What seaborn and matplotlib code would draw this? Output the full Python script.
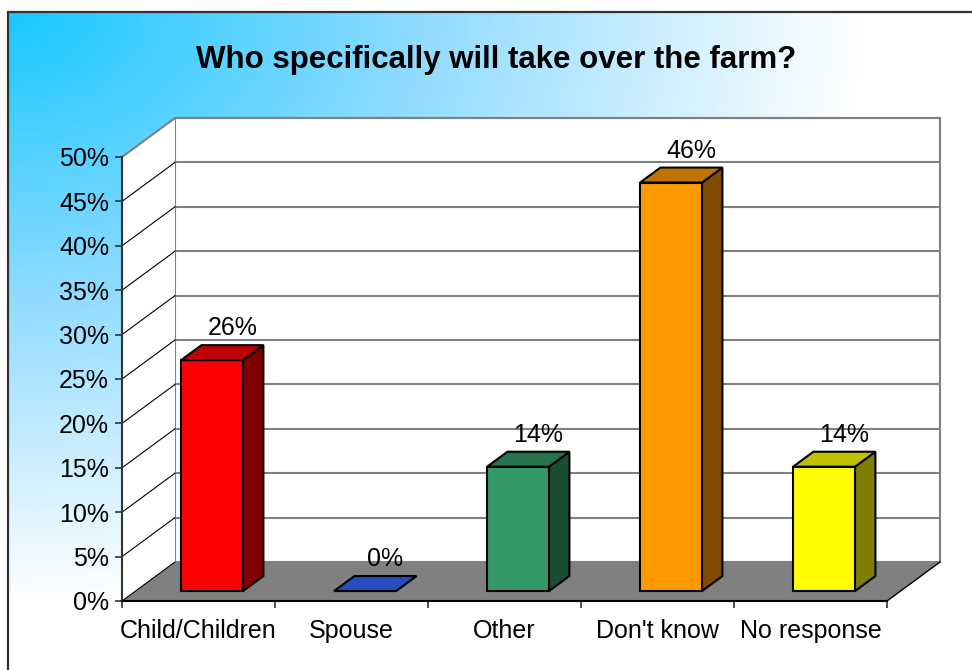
import numpy as np
import matplotlib
matplotlib.use("Agg")
import matplotlib.pyplot as plt
from matplotlib.colors import LinearSegmentedColormap, to_rgb
from matplotlib.patches import Polygon, Rectangle
import seaborn as sns

# ---- data -------------------------------------------------------------
categories = ["Child/Children", "Spouse", "Other", "Don't know", "No response"]
shares = [26, 0, 14, 46, 14]
front_colors = ["#ff0000", "#3366ff", "#339966", "#ff9900", "#ffff00"]
ytick_values = [0, 5, 10, 15, 20, 25, 30, 35, 40, 45, 50]
ytick_labels = [f"{v}%" for v in ytick_values]
title = "Who specifically will take over the farm?"

# ---- style ------------------------------------------------------------
sns.set_theme(style="white")
plt.rcParams["font.family"] = ["Liberation Sans", "DejaVu Sans"]

W, H = 972, 670
fig = plt.figure(figsize=(W / 100, H / 100), dpi=100)
fig.patch.set_facecolor("white")

# ---- background panel with corner gradient -----------------------------
bg = fig.add_axes([0, 0, 1, 1])
yy, xx = np.mgrid[0:H, 0:W]
t = np.sqrt(((xx - 8) / W) ** 2 + ((yy - 12) / H) ** 2) / 0.88
t = np.clip(t, 0, 1)
fade = LinearSegmentedColormap.from_list(
    "fade", [(0.0, "#18c8ff"), (0.48, "#8fdbff"), (1.0, "#ffffff")])
bg.imshow(t[12:, 8:], cmap=fade, vmin=0, vmax=1, extent=(8, W, H, 12),
          aspect="auto", interpolation="bilinear")
bg.plot([8, 8, W + 5], [H + 5, 12, 12], color="#333333", lw=1.6,
        solid_joinstyle="miter", solid_capstyle="projecting")
bg.set_xlim(0, W)
bg.set_ylim(H, 0)
bg.axis("off")
bg.text(496.5, 68, title, ha="center", va="baseline", fontsize=22.5,
        fontweight="bold", color="black")

# ---- plot area (front plane of the 3-D box) ----------------------------
ax = fig.add_axes([122 / W, (H - 601) / H, 765 / W, 444 / H])
ax.patch.set_alpha(0)

sns.barplot(x=categories, y=shares, hue=categories, palette=front_colors,
            legend=False, width=0.405, saturation=1, edgecolor="black",
            linewidth=1.5, ax=ax, zorder=3)

ax.set_xlim(-0.5, 4.5)
ax.set_ylim(0, 50)
ax.set_xlabel("")
ax.set_ylabel("")

# depth of the box in data units
DX = 53 / 153
DY = 39 * 50 / 444
x_lo, x_hi = -0.5, 4.5
y_top = 50

# back wall and side wall
ax.add_patch(Rectangle((x_lo + DX, DY), x_hi - x_lo, y_top, facecolor="white",
                       edgecolor="#808080", lw=1.5, zorder=0.2, clip_on=False))
ax.add_patch(Polygon([(x_lo, 0), (x_lo + DX, DY), (x_lo + DX, y_top + DY),
                      (x_lo, y_top)], closed=True, facecolor="white",
                     edgecolor="none", zorder=0.2, clip_on=False))
ax.plot([x_lo, x_lo + DX], [y_top, y_top + DY], color="#808080", lw=1.5,
        zorder=0.3, clip_on=False)

# gridlines on the back wall
for v in ytick_values[1:]:
    ax.plot([x_lo + DX, x_hi + DX], [v + DY, v + DY], color="#808080",
            lw=1.5, zorder=0.3, clip_on=False)

# floor
ax.add_patch(Polygon([(x_lo, 0), (x_hi, 0), (x_hi + DX, DY), (x_lo + DX, DY)],
                     closed=True, facecolor="#808080", edgecolor="none",
                     zorder=0.4, clip_on=False))
ax.plot([x_hi, x_hi + DX], [0, DY], color="black", lw=1.0, zorder=0.5,
        clip_on=False)

# gridlines on the side wall
for v in ytick_values[:-1]:
    ax.plot([x_lo, x_lo + DX], [v, v + DY], color="black", lw=0.8,
            zorder=0.5, clip_on=False)

# ---- turn the flat bars into prisms ------------------------------------
front_f, back_f = 0.256, 0.64
fx, fy = front_f * DX, front_f * DY
bx, by = back_f * DX, back_f * DY


def shade(color, k):
    r, g, b = to_rgb(color)
    return (r * k, g * k, b * k)


bars = [p for p in ax.patches
        if isinstance(p, Rectangle) and p.get_zorder() == 3]
for p in bars:
    x0, w, h = p.get_x(), p.get_width(), p.get_height()
    idx = int(round(x0 + w / 2))
    col = front_colors[idx]
    p.set_x(x0 + fx)
    p.set_y(fy)
    p.set_joinstyle("miter")
    side = [(x0 + fx + w, fy), (x0 + bx + w, by), (x0 + bx + w, by + h),
            (x0 + fx + w, fy + h)]
    top = [(x0 + fx, fy + h), (x0 + fx + w, fy + h), (x0 + bx + w, by + h),
           (x0 + bx, by + h)]
    ax.add_patch(Polygon(side, closed=True, facecolor=shade(col, 0.5),
                         edgecolor="black", lw=1.5, joinstyle="miter",
                         zorder=3, clip_on=False))
    ax.add_patch(Polygon(top, closed=True, facecolor=shade(col, 0.75),
                         edgecolor="black", lw=1.5, joinstyle="miter",
                         zorder=3, clip_on=False))
    ax.annotate(f"{h:.0f}%", (x0 + bx + w / 2, by + h), xytext=(0, 7),
                textcoords="offset points", ha="center", va="baseline",
                fontsize=18, color="black", zorder=4, annotation_clip=False)

# ---- axes, ticks and labels ----------------------------------------------
for s in ("top", "right"):
    ax.spines[s].set_visible(False)
ax.spines["left"].set_color("#333333")
ax.spines["left"].set_linewidth(1.5)
ax.spines["bottom"].set_color("black")
ax.spines["bottom"].set_linewidth(1.5)
ax.spines["left"].set_zorder(2.6)
ax.spines["bottom"].set_zorder(2.6)

ax.set_yticks(ytick_values)
ax.set_yticklabels(ytick_labels)
ax.set_xticks(np.arange(-0.5, 5, 1))
ax.set_xticklabels([])
ax.set_xticks(range(len(categories)), minor=True)
ax.set_xticklabels(categories, minor=True)

ax.tick_params(axis="both", which="major", direction="out", length=5,
               width=1.2, color="#333333", labelsize=18, labelcolor="black",
               left=True, bottom=True, pad=4.3)
ax.tick_params(axis="x", which="minor", length=0, labelsize=18,
               labelcolor="black", bottom=True, pad=13)
ax.grid(False)

fig.savefig("out.png", dpi=100)
